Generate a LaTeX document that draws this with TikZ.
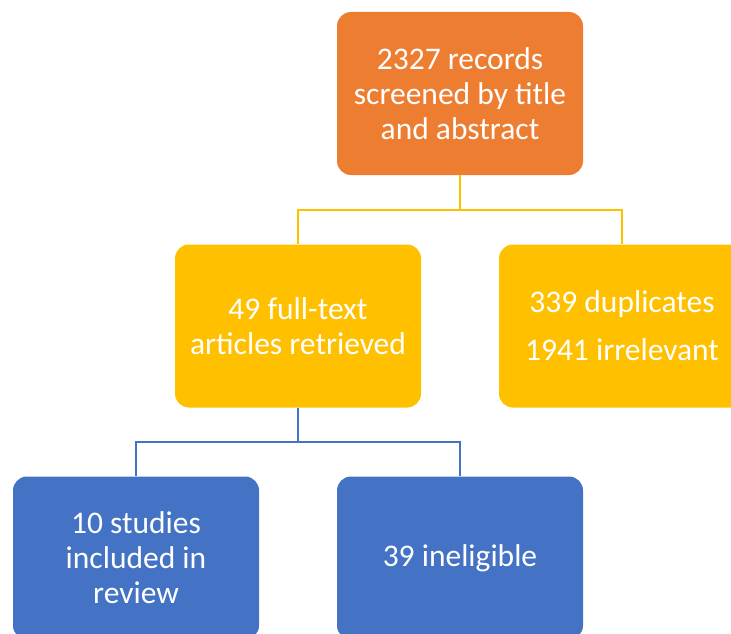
\documentclass[tikz,border=0pt]{standalone}
\usepackage{fontspec}
\setmainfont{Carlito}
\definecolor{corange}{HTML}{ED7D31}
\definecolor{cyellow}{HTML}{FFC000}
\definecolor{cblue}{HTML}{4472C4}
\begin{document}
\begin{tikzpicture}[x=1pt,y=-1pt,
  box/.style={rectangle, rounded corners=14pt, minimum width=246pt, minimum height=163pt,
    inner sep=0pt, text=white, align=center, font=\fontsize{31.5}{35}\selectfont},
  ylink/.style={draw=cyellow, line width=2.6pt},
  blink/.style={draw=cblue, line width=2.6pt}]
\useasboundingbox (0,0) rectangle (731,634);
\clip (0,0) rectangle (731,634);
\node[box, fill=corange] (top) at (460,93.5) {2327 records\\screened by title\\and abstract};
\node[box, fill=cyellow] (mid) at (298,326) {49 full-text\\articles retrieved};
\node[box, fill=cyellow] (rgt) at (622,326) {339 duplicates\\[13pt]1941 irrelevant};
\node[box, fill=cblue] (inc) at (136,558) {10 studies\\included in\\review};
\node[box, fill=cblue] (inel) at (460,558) {39 ineligible};
\coordinate (j1) at (460,210);
\coordinate (j2) at (298,442);
\draw[ylink] (top.south) -- (j1) -| (mid.north);
\draw[ylink] (j1) -| (rgt.north);
\draw[blink] (mid.south) -- (j2) -| (inc.north);
\draw[blink] (j2) -| (inel.north);
\end{tikzpicture}
\end{document}
